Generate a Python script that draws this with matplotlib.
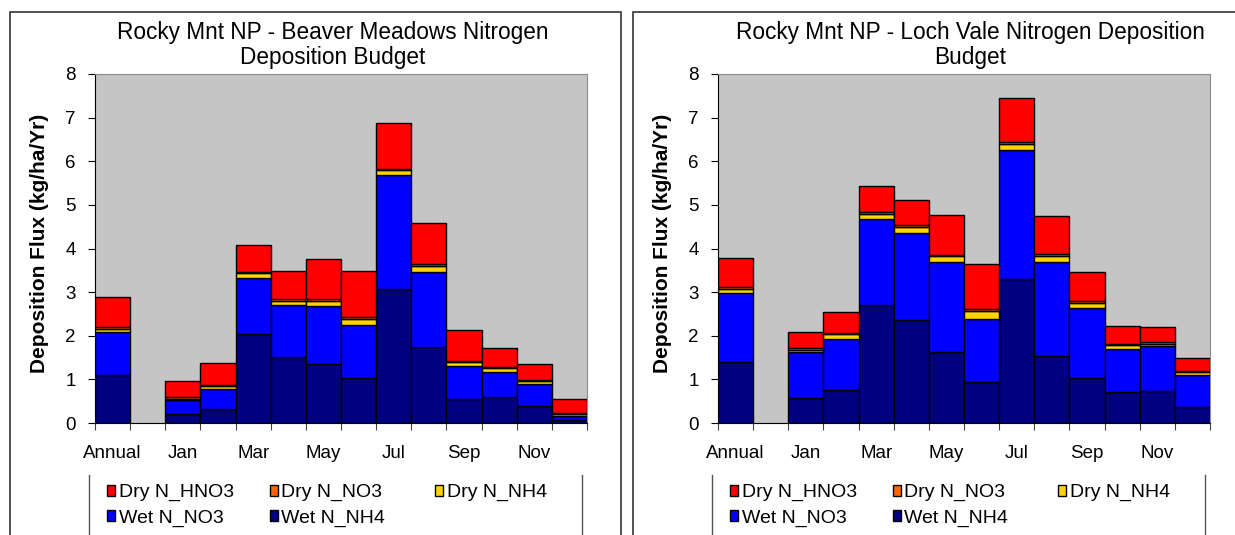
import numpy as np
import matplotlib.pyplot as plt
from matplotlib.patches import Rectangle
from matplotlib.lines import Line2D

plt.rcParams['font.family'] = ['Liberation Sans', 'DejaVu Sans']

# Categories: annual total, a blank spacer, then the months
categories = ['Annual', '', 'Jan', 'Feb', 'Mar', 'Apr', 'May', 'Jun',
              'Jul', 'Aug', 'Sep', 'Oct', 'Nov', 'Dec']

# Beaver Meadows (kg/ha/Yr)
bm_wet_nh4 = [1.09, 0, 0.21, 0.33, 2.05, 1.51, 1.35, 1.04, 3.08, 1.74, 0.56, 0.60, 0.38, 0.06]
bm_wet_no3 = [0.99, 0, 0.31, 0.44, 1.28, 1.19, 1.33, 1.20, 2.60, 1.72, 0.75, 0.57, 0.52, 0.10]
bm_dry_nh4 = [0.08, 0, 0.04, 0.07, 0.10, 0.10, 0.12, 0.15, 0.11, 0.14, 0.09, 0.08, 0.06, 0.04]
bm_dry_no3 = [0.04, 0, 0.03, 0.03, 0.04, 0.05, 0.04, 0.04, 0.04, 0.04, 0.03, 0.03, 0.03, 0.04]
bm_dry_hno3 = [0.68, 0, 0.37, 0.51, 0.62, 0.64, 0.92, 1.06, 1.05, 0.95, 0.70, 0.45, 0.36, 0.32]

# Loch Vale (kg/ha/Yr)
lv_wet_nh4 = [1.40, 0, 0.58, 0.76, 2.70, 2.36, 1.62, 0.94, 3.29, 1.54, 1.03, 0.71, 0.73, 0.37]
lv_wet_no3 = [1.57, 0, 1.05, 1.17, 1.97, 1.99, 2.07, 1.45, 2.97, 2.16, 1.61, 0.99, 1.03, 0.74]
lv_dry_nh4 = [0.11, 0, 0.04, 0.11, 0.12, 0.14, 0.13, 0.18, 0.13, 0.13, 0.11, 0.08, 0.06, 0.06]
lv_dry_no3 = [0.04, 0, 0.04, 0.03, 0.04, 0.05, 0.04, 0.04, 0.04, 0.04, 0.04, 0.03, 0.03, 0.03]
lv_dry_hno3 = [0.67, 0, 0.38, 0.48, 0.60, 0.58, 0.90, 1.03, 1.01, 0.88, 0.67, 0.42, 0.34, 0.29]

series_names = ['Wet N_NH4', 'Wet N_NO3', 'Dry N_NH4', 'Dry N_NO3', 'Dry N_HNO3']
series_colors = ['#000080', '#0000ff', '#ffd400', '#ff6600', '#ff0000']

W, H = 1235, 535
fig = plt.figure(figsize=(W / 100, H / 100), dpi=100)
fig.patch.set_facecolor('white')


def px(x, y, w=0, h=0):
    # pixel box (top-left origin) -> figure fraction
    return [x / W, 1 - (y + h) / H, w / W, h / H]


def add_legend(handles, labels, x, ncol):
    fig.legend(handles, labels, loc='upper left',
               bbox_to_anchor=(x / W, 1 - 484 / H), ncol=ncol, frameon=False,
               fontsize=14, handlelength=0.4, handleheight=0.5, handletextpad=0.2,
               columnspacing=1.85, labelspacing=0.42, borderpad=0, borderaxespad=0)


def draw_panel(left, panel_x, title, title_x, stacks):
    ax = fig.add_axes(px(left, 74, 492, 349))
    ax.set_facecolor('#c5c5c5')
    x = np.arange(len(categories))
    keep = np.array([c != '' for c in categories])  # spacer slot stays empty
    bottom = np.zeros(len(categories))
    bars = []
    for vals, name, col in zip(stacks, series_names, series_colors):
        vals = np.array(vals)
        b = ax.bar(x[keep], vals[keep], width=1.0, bottom=bottom[keep], color=col,
                   edgecolor='black', linewidth=1, label=name)
        bars.append(b)
        bottom += vals

    ax.set_xlim(-0.5, len(categories) - 0.5)
    ax.set_ylim(0, 8)
    ax.set_yticks(range(0, 9))
    ax.tick_params(axis='y', direction='out', length=5, labelsize=13.5, pad=9)

    # tick marks at category edges, labels under every other category
    ax.set_xticks(np.arange(-0.5, len(categories)), labels=[])
    ax.tick_params(axis='x', which='major', direction='out', length=5, color='#404040')
    ax.set_xticks(x[::2], labels=categories[::2], minor=True)
    ax.tick_params(axis='x', which='minor', length=0, labelsize=13.5, pad=16)

    for s in ['top', 'right']:
        ax.spines[s].set_color('#8a8a8a')
    for s in ['left', 'bottom']:
        ax.spines[s].set_color('black')

    fig.text(title_x / W, 1 - 45 / H, title, ha='center', va='center',
             fontsize=16.3, linespacing=1.08)
    fig.text((panel_x + 30) / W, 1 - 243 / H, 'Deposition Flux (kg/ha/Yr)',
             rotation=90, ha='center', va='center', fontsize=15, fontweight='bold')

    # panel frame
    fig.add_artist(Rectangle((panel_x / W, -0.05), 611 / W, (H - 12) / H + 0.05,
                             transform=fig.transFigure, fill=False,
                             edgecolor='#333333', linewidth=1.2))

    # legend in Excel order: two full columns, then Dry N_NH4 on its own
    leg_x = left - 6
    order = [4, 1, 3, 0]
    add_legend([bars[i] for i in order], [series_names[i] for i in order], left + 12, 2)
    add_legend([bars[2]], [series_names[2]], left + 340, 1)
    for x0 in (leg_x, leg_x + 493):
        fig.add_artist(Line2D([x0 / W, x0 / W], [0, 1 - 475 / H],
                              transform=fig.transFigure, color='#555555', linewidth=1))


draw_panel(95, 10, 'Rocky Mnt NP - Beaver Meadows Nitrogen\nDeposition Budget', 333,
           [bm_wet_nh4, bm_wet_no3, bm_dry_nh4, bm_dry_no3, bm_dry_hno3])
draw_panel(718, 633, 'Rocky Mnt NP - Loch Vale Nitrogen Deposition\nBudget', 970,
           [lv_wet_nh4, lv_wet_no3, lv_dry_nh4, lv_dry_no3, lv_dry_hno3])

fig.savefig('out.png', dpi=100)
